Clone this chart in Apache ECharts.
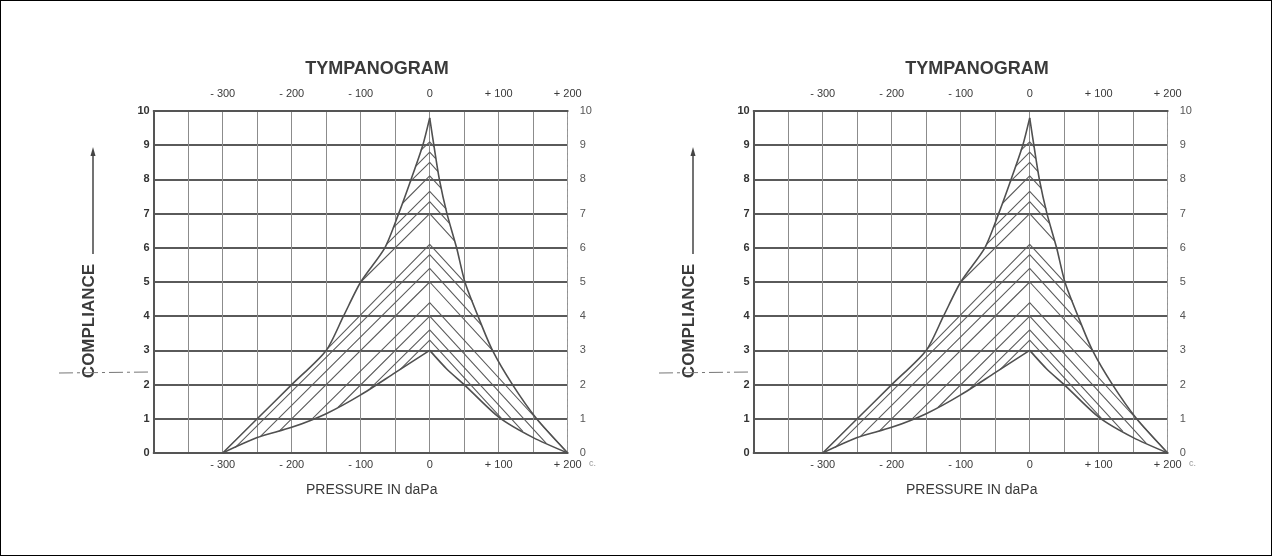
<!DOCTYPE html>
<html>
<head>
<meta charset="utf-8">
<script src="https://cdn.jsdelivr.net/npm/echarts@6/dist/echarts.min.js"></script>
<style>
html,body{margin:0;padding:0;background:#fff;}
#c{width:1272px;height:556px;box-sizing:border-box;border:1px solid #000;}
</style>
</head>
<body>
<div id="c"></div>
<script>
// ---- tick labels ----
const pressureTicks = [-300, -200, -100, 0, 100, 200];
const pressureTickText = ['- 300', '- 200', '- 100', '0', '+ 100', '+ 200'];
const complianceTicks = [0, 1, 2, 3, 4, 5, 6, 7, 8, 9, 10];

// ---- envelope curves (pressure daPa, compliance) ----
const upperLeftX = [-300, -250, -200, -150, -125, -100, -65, -45, -27, -10, 0];
const upperLeftY = [0, 1, 2, 3, 4, 5, 6, 7, 8, 9, 9.8];
const upperRightX = [0, 6, 14, 25, 39, 51, 70, 91, 120, 155, 200];
const upperRightY = [9.8, 9, 8, 7, 6, 5, 4, 3, 2, 1, 0];
const lowerLeftX = [-300, -250, -200, -150, -100, -50, 0];
const lowerLeftY = [0, 0.45, 0.75, 1.15, 1.7, 2.35, 3];
const lowerRightX = [0, 25, 50, 100, 150, 200];
const lowerRightY = [3, 2.45, 2.0, 1.05, 0.45, 0];

// ---- hatching chevrons: apex on 0 daPa, arm ends ----
const hatchApex   = [3.3, 3.6, 4.0, 4.4, 5.0, 5.4, 5.8, 6.1, 7.0, 7.35, 7.65, 8.1, 8.5, 8.8, 9.1];
const hatchLeftX  = [-43, -86, -133, -171, -218, -246, -282, -148, -100, -63, -53, -39, -28, -20, -13];
const hatchLeftY  = [2.44, 1.89, 1.33, 0.98, 0.64, 0.47, 0.16, 3.05, 5.0, 6.09, 6.58, 7.31, 7.94, 8.39, 8.85];
const hatchRightX = [105, 135, 169, 200, 91, 75, 62, 52, 36, 29, 24, 17, 12, 9, 6];
const hatchRightY = [0.99, 0.63, 0.28, 0, 3.0, 3.74, 4.44, 4.96, 6.2, 6.71, 7.13, 7.73, 8.23, 8.6, 8.96];

const titleText = 'TYMPANOGRAM';
const yName = 'COMPLIANCE';
const xName = 'PRESSURE IN daPa';

const panels = [0, 1];
const PANEL_SHIFT = 600;
const GL = 152.7, GT = 110, GW = 414, GH = 342;

const zip = (xs, ys) => xs.map((x, i) => [x, ys[i]]);
const fmtP = v => { const k = pressureTicks.indexOf(v); return k >= 0 ? pressureTickText[k] : ''; };

const grid = [], xAxis = [], yAxis = [], series = [], graphic = [], title = [];
const FONT = 'Liberation Sans, Arial, sans-serif';

panels.forEach(p => {
  const off = p * PANEL_SHIFT;
  grid.push({ left: GL + off, top: GT, width: GW, height: GH, containLabel: false });
  // bottom x
  xAxis.push({
    type: 'value', gridIndex: p, position: 'bottom', min: -400, max: 200, interval: 50,
    axisLine: { show: true, onZero: false, lineStyle: { color: '#555', width: 2 } },
    axisTick: { show: false },
    axisLabel: { formatter: fmtP, color: '#3a3a3a', fontSize: 11, margin: 6, fontFamily: FONT, showMinLabel: true, showMaxLabel: true },
    splitLine: { show: true, lineStyle: { color: '#8c8c8c', width: 1 } }
  });
  // top x
  xAxis.push({
    type: 'value', gridIndex: p, position: 'top', min: -400, max: 200, interval: 50,
    axisLine: { show: true, onZero: false, lineStyle: { color: '#555', width: 2 } },
    axisTick: { show: false },
    axisLabel: { formatter: fmtP, color: '#3a3a3a', fontSize: 11, margin: 12, fontFamily: FONT, showMinLabel: true, showMaxLabel: true },
    splitLine: { show: false }
  });
  // left y
  yAxis.push({
    type: 'value', gridIndex: p, position: 'left', min: 0, max: 10, interval: 1,
    axisLine: { show: true, onZero: false, lineStyle: { color: '#555', width: 2 } },
    axisTick: { show: false },
    axisLabel: { color: '#333', fontSize: 11, fontWeight: 'bold', margin: 4, fontFamily: FONT,
      formatter: v => complianceTicks.indexOf(v) >= 0 ? String(v) : '' },
    splitLine: { show: true, lineStyle: { color: '#5a5a5a', width: 2 } }
  });
  // right y
  yAxis.push({
    type: 'value', gridIndex: p, position: 'right', min: 0, max: 10, interval: 1,
    axisLine: { show: true, onZero: false, lineStyle: { color: '#999', width: 1, type: 'dashed' } },
    axisTick: { show: false },
    axisLabel: { color: '#555', fontSize: 11, margin: 12, fontFamily: FONT,
      formatter: v => complianceTicks.indexOf(v) >= 0 ? String(v) : '' },
    splitLine: { show: false }
  });

  const xi = p * 2, yi = p * 2;
  const env = (xs, ys) => ({
    type: 'line', xAxisIndex: xi, yAxisIndex: yi, data: zip(xs, ys), symbol: 'none',
    silent: true, animation: false, smooth: 0.25,
    lineStyle: { color: '#505050', width: 1.6 }, z: 5
  });
  series.push(env(upperLeftX, upperLeftY), env(upperRightX, upperRightY),
              env(lowerLeftX, lowerLeftY), env(lowerRightX, lowerRightY));
  hatchApex.forEach((a, k) => {
    series.push({
      type: 'line', xAxisIndex: xi, yAxisIndex: yi, symbol: 'none', silent: true, animation: false,
      data: [[hatchLeftX[k], hatchLeftY[k]], [0, a], [hatchRightX[k], hatchRightY[k]]],
      lineStyle: { color: '#5c5c5c', width: 1.1 }, z: 4
    });
  });

  title.push({
    text: titleText, left: 371 + off, top: 54, textAlign: 'center',
    textStyle: { fontSize: 18, fontWeight: 'bold', color: '#3a3a3a', fontFamily: FONT }
  });

  graphic.push(
    { type: 'text', left: 371 + off - 66, top: 482,
      style: { text: xName, fontSize: 14, fill: '#3a3a3a', fontFamily: FONT } },
    { type: 'text', x: 88 + off, y: 320, rotation: Math.PI / 2,
      style: { text: yName, fontSize: 17, fontWeight: 'bold', fill: '#3a3a3a', fontFamily: FONT,
               align: 'center', verticalAlign: 'middle' } },
    { type: 'line', shape: { x1: 92 + off, y1: 253, x2: 92 + off, y2: 152 },
      style: { stroke: '#444', lineWidth: 1.5 } },
    { type: 'polygon', shape: { points: [[92 + off, 146], [89.5 + off, 155], [94.5 + off, 155]] },
      style: { fill: '#444' } },
    { type: 'line', shape: { x1: 58 + off, y1: 372, x2: 150 + off, y2: 371 },
      style: { stroke: '#777', lineWidth: 1, lineDash: [14, 4, 3, 4] } },
    { type: 'text', x: 588 + off, y: 458,
      style: { text: 'c.', fontSize: 9, fill: '#999', fontFamily: FONT } }
  );
});

const chart = echarts.init(document.getElementById('c'), null, { renderer: 'canvas' });
chart.setOption({
  backgroundColor: '#fff',
  animation: false,
  title, grid, xAxis, yAxis, series, graphic
});
</script>
</body>
</html>
